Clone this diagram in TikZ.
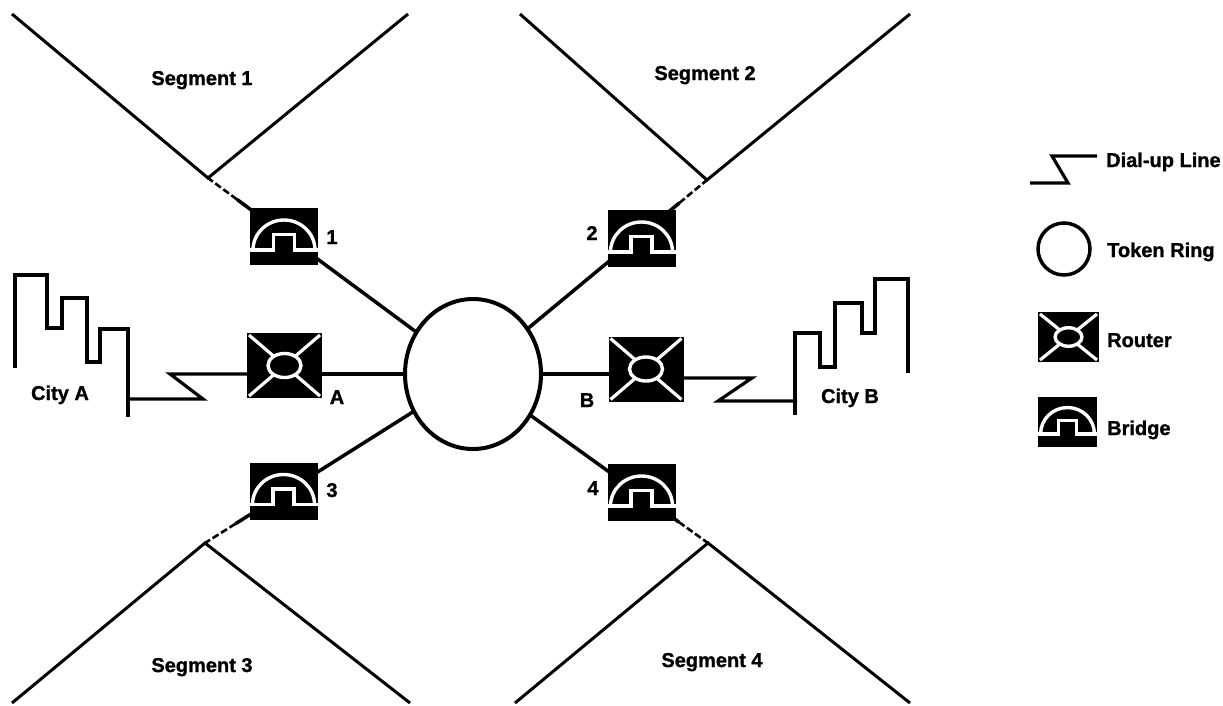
\documentclass[tikz,border=0pt]{standalone}
\usepackage{fontspec}
\setmainfont{Liberation Sans}
\newfontfamily\heavyfont[FakeBold=1.2]{Liberation Sans Bold}
\usetikzlibrary{calc,backgrounds,shapes.geometric}

\tikzset{
  lbl/.style={font=\fontsize{20}{24}\selectfont\heavyfont, inner sep=0pt},
  link/.style={line width=3.5pt},
  hatch/.style={line width=2.6pt, dash pattern=on 7pt off 3pt},
  wire/.style={line width=3.2pt, miter limit=4},
  seg/.style={line width=3pt},
  bridgebox/.style={fill=black, draw=none, minimum width=68pt, minimum height=57pt, inner sep=0pt},
  routerbox/.style={fill=black, draw=none, minimum width=75pt, minimum height=65pt, inner sep=0pt},
  face/.style={draw=white, line width=3.4pt},
}

% white handset outline of a bridge, drawn over its black box
\newcommand{\bridgeface}[3]{%
  \begin{scope}[shift={(#1.center)}, xscale=#2, yscale=#3]
    \draw[face] (-34,13.5) -- (-10.5,13.5) -- (-10.5,-2) -- (10.5,-2) -- (10.5,13.5) -- (34,13.5);
    \draw[face] (-31,13.5) arc[start angle=180, end angle=360, x radius=31, y radius=30];
  \end{scope}}

% white cross and ring of a router, drawn over its black box
\newcommand{\routerface}[3]{%
  \begin{scope}[shift={(#1.center)}]
    \draw[face, line width=3.2pt] (-#2+2,-#3+2) -- (#2-2,#3-2) (#2-2,-#3+2) -- (-#2+2,#3-2);
    \draw[face, fill=black] (0,0) ellipse [x radius=0.44*#2, y radius=0.37*#3];
  \end{scope}}

\begin{document}
\begin{tikzpicture}[x=1pt,y=-1pt]
\useasboundingbox (0,0) rectangle (1223,705);

% token ring
\node[ellipse, draw, line width=4pt, fill=white, minimum width=136pt, minimum height=150pt, inner sep=0pt] (ring) at (473,374) {};

% bridges
\node[bridgebox] (b1) at (284,236.5) {};
\node[bridgebox] (b2) at (641.5,238.5) {};
\node[bridgebox] (b3) at (283.5,491) {};
\node[bridgebox] (b4) at (641.5,492.5) {};
\bridgeface{b1}{1}{1}
\bridgeface{b2}{1}{1}
\bridgeface{b3}{1}{1}
\bridgeface{b4}{1}{1}

% routers
\node[routerbox] (rA) at (284.5,365.5) {};
\node[routerbox] (rB) at (646,369) {};
\routerface{rA}{37.5}{32.5}
\routerface{rB}{37.5}{32.5}

% segment junctions
\coordinate (J1) at (208,178);
\coordinate (J2) at (707,180);
\coordinate (J3) at (205,543);
\coordinate (J4) at (708,543);

\begin{scope}[on background layer]
  % ring to bridges, hatched near each segment
  \foreach \j in {1,...,4} {
    \draw[link] (ring.center) -- ($(J\j)!36pt!(ring.center)$);
    \draw[hatch] ($(J\j)!36pt!(ring.center)$) -- (J\j);
  }
  % LAN segments
  \draw[seg] (12,14) -- (J1) -- (408,14);
  \draw[seg] (520,14) -- (J2) -- (910,14);
  \draw[seg] (12,703) -- (J3) -- (410,703);
  \draw[seg] (515,703) -- (J4) -- (910,703);
  % ring to routers
  \draw[link] (ring.center) -- (rA.center |- ring.center);
  \draw[link] (ring.center) -- (rB.center |- ring.center);
  % dial-up lines
  \draw[wire] (rA.center |- ring.center) -- (170,374) -- (203,399) -- (128,399);
  \draw[wire] (rB.center) ++(0,9) -- (752,378) -- (718,401) -- (797,401);
\end{scope}

% city skylines
\draw[wire] (15,368) -- (15,275) -- (47,275) -- (47,328) -- (62,328) -- (62,298) -- (87,298) -- (87,362) -- (100,362) -- (100,329) -- (128,329) -- (128,417);
\draw[wire] (795,415) -- (795,333) -- (820,333) -- (820,367) -- (835,367) -- (835,303) -- (862,303) -- (862,333) -- (875,333) -- (875,279) -- (908,279) -- (908,373);

% labels
\node[lbl, anchor=base] (tS1) at (202,85) {Segment 1};
\node[lbl, anchor=base] (tS2) at (705,80) {Segment 2};
\node[lbl, anchor=base] (tS3) at (202,672) {Segment 3};
\node[lbl, anchor=base] (tS4) at (712,667) {Segment 4};
\node[lbl, anchor=base] (t1) at (332,244) {1};
\node[lbl, anchor=base] (t2) at (592,240) {2};
\node[lbl, anchor=base] (t3) at (332,497) {3};
\node[lbl, anchor=base] (t4) at (593,495) {4};
\node[lbl, anchor=base] (tA) at (337,404) {A};
\node[lbl, anchor=base] (tB) at (587,407) {B};
\node[lbl, anchor=base] (tCA) at (60,400) {City A};
\node[lbl, anchor=base] (tCB) at (850,403) {City B};

% legend
\draw[wire] (1030,183) -- (1068,183) -- (1052,156) -- (1097,156);
\node[lbl, anchor=base west] (lDial) at (1106,167) {Dial-up Line};
\node[circle, draw, line width=3.5pt, minimum size=52pt, inner sep=0pt] (lRing) at (1064,249) {};
\node[lbl, anchor=base west] (lRingT) at (1107,257) {Token Ring};
\node[routerbox, minimum width=61pt, minimum height=50pt] (lRouter) at (1068.5,337) {};
\routerface{lRouter}{30.5}{25}
\node[lbl, anchor=base west] (lRouterT) at (1107,347) {Router};
\node[bridgebox, minimum width=59pt, minimum height=50pt] (lBridge) at (1067.5,422) {};
\bridgeface{lBridge}{0.868}{0.877}
\node[lbl, anchor=base west] (lBridgeT) at (1107,435) {Bridge};
\end{tikzpicture}
\end{document}
